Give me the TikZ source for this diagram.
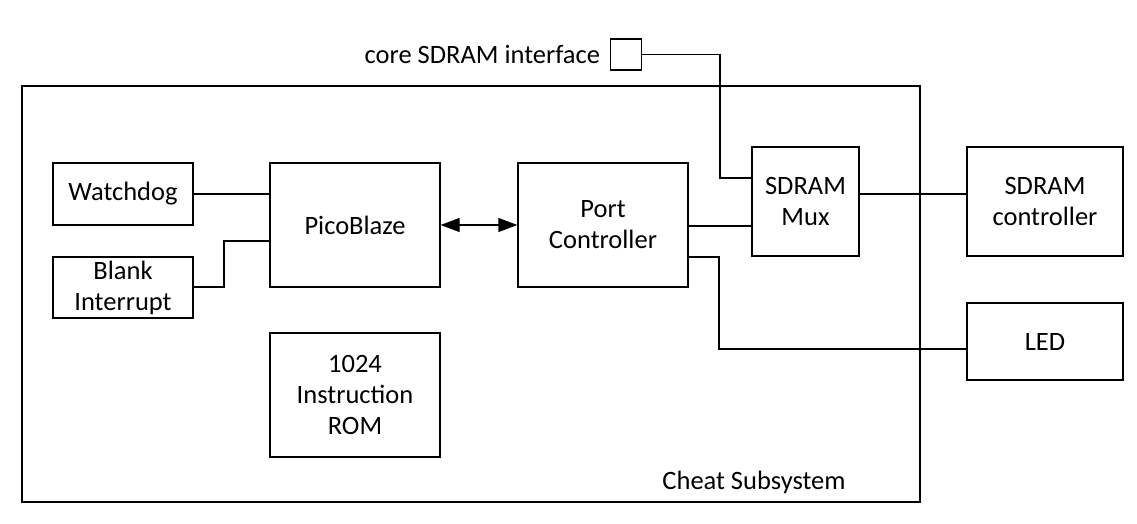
\documentclass[tikz,border=0pt]{standalone}
\usepackage{fontspec}
\setmainfont{Carlito}
\usetikzlibrary{arrows.meta}
\begin{document}
\begin{tikzpicture}[x=1pt,y=-1pt,
  font=\fontsize{26.5}{31}\selectfont,
  line width=1.3pt,
  blk/.style={draw, rectangle, inner sep=0pt, align=center},
  wire/.style={draw, line width=1.3pt},
  biarrow/.style={draw, line width=1.3pt, {Triangle[length=19pt,width=14pt]}-{Triangle[length=19pt,width=14pt]}}
]
\useasboundingbox (0,0) rectangle (1137,524);
% outer subsystem box
\node[blk, minimum width=898pt, minimum height=416pt] (cheat) at (471,294) {};
\node[anchor=center] (cheatlbl) at (754,482) {Cheat Subsystem};
% interface port
\node[blk, minimum width=31pt, minimum height=31pt] (port) at (626,54.5) {};
\node[anchor=east] (portlbl) at (604,54) {core SDRAM interface};
% blocks
\node[blk, minimum width=140pt, minimum height=62pt] (wd) at (123,194) {Watchdog};
\node[blk, minimum width=140pt, minimum height=61pt] (bi) at (123,287.5) {Blank\\Interrupt};
\node[blk, minimum width=170pt, minimum height=124pt] (pb) at (355,225) {PicoBlaze};
\node[blk, minimum width=170pt, minimum height=124pt] (rom) at (355,395) {1024\\Instruction\\ROM};
\node[blk, minimum width=170pt, minimum height=124pt] (pc) at (603,225) {Port\\Controller};
\node[blk, minimum width=107pt, minimum height=109pt] (mux) at (805.5,201.5) {SDRAM\\Mux};
\node[blk, minimum width=156pt, minimum height=109pt] (sc) at (1045,201.5) {SDRAM\\controller};
\node[blk, minimum width=156pt, minimum height=77pt] (led) at (1045,341.5) {LED};
% connectors
\coordinate (j1) at (720,54.5);
\coordinate (j2) at (720,178);
\draw[wire] (port.east) -- (j1) -- (j2) -- (j2 -| mux.west);
\draw[wire] (wd.east) -- (wd.east -| pb.west);
\coordinate (k1) at (224,287);
\coordinate (k2) at (224,241);
\draw[wire] (bi.east |- k1) -- (k1) -- (k2) -- (k2 -| pb.west);
\draw[biarrow] (pb.east) -- (pc.west);
\draw[wire] (pc.east |- 0,226) -- (mux.west |- 0,226);
\draw[wire] (mux.east |- 0,194) -- (sc.west |- 0,194);
\coordinate (m1) at (719,257);
\coordinate (m2) at (719,349);
\draw[wire] (pc.east |- m1) -- (m1) -- (m2) -- (m2 -| led.west);
\end{tikzpicture}
\end{document}
